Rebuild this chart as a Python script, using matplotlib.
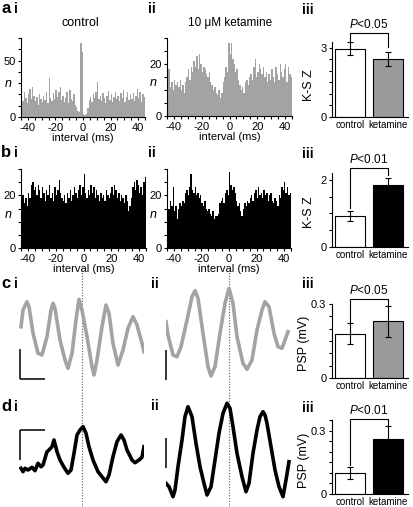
import numpy as np
import matplotlib
matplotlib.use("Agg")
import matplotlib.pyplot as plt

plt.rcParams["font.family"] = ["Liberation Sans", "DejaVu Sans"]
plt.rcParams["axes.unicode_minus"] = False
plt.rcParams["mathtext.fontset"] = "custom"
plt.rcParams["mathtext.rm"] = "Liberation Sans"
plt.rcParams["mathtext.it"] = "Liberation Sans:italic"

W, H = 413, 507

# --- cross-correlograms (counts per 1 ms bin, -45..44 ms) ---
bin_edges = np.arange(-45, 46)
cch_a_control = [18, 14, 22, 17, 12, 20, 25, 16, 27, 19,
                 14, 18, 11, 20, 16, 13, 19, 15, 22, 12,
                 35, 17, 14, 21, 16, 24, 18, 22, 27, 15,
                 19, 13, 17, 22, 12, 24, 16, 14, 20, 11,
                 9, 5, 4, 66, 58, 3, 2, 3, 8, 15,
                 18, 13, 20, 17, 22, 31, 16, 19, 14, 21,
                 17, 12, 19, 23, 15, 20, 13, 18, 22, 16,
                 19, 14, 21, 17, 24, 13, 18, 22, 15, 20,
                 16, 21, 14, 19, 25, 17, 22, 13, 20, 18]
cch_a_ketamine = [22, 18, 11, 13, 10, 14, 12, 13, 11, 14,
                  10, 12, 9, 13, 15, 18, 14, 19, 17, 21,
                  19, 23, 18, 24, 20, 17, 19, 18, 16, 15,
                  17, 13, 12, 10, 11, 9, 8, 10, 7, 9,
                  13, 15, 19, 17, 28, 24, 28, 22, 20, 17,
                  18, 14, 12, 10, 11, 9, 13, 14, 12, 15,
                  16, 14, 19, 22, 15, 17, 20, 18, 16, 19,
                  15, 17, 13, 16, 14, 18, 15, 13, 19, 16,
                  14, 20, 17, 15, 18, 20, 13, 19, 16, 15]
cch_b_control = [18, 20, 17, 19, 16, 21, 19, 24, 25, 22,
                 23, 20, 24, 22, 19, 23, 21, 18, 22, 20,
                 24, 19, 21, 18, 23, 20, 22, 26, 21, 19,
                 18, 20, 17, 21, 19, 22, 18, 20, 23, 21,
                 19, 22, 24, 20, 23, 28, 21, 19, 22, 20,
                 24, 21, 23, 19, 22, 20, 18, 21, 19, 20,
                 18, 22, 20, 19, 21, 23, 20, 24, 22, 19,
                 21, 18, 20, 19, 17, 20, 18, 14, 16, 19,
                 23, 25, 22, 26, 24, 21, 23, 20, 25, 27]
cch_b_ketamine = [17, 15, 18, 16, 23, 14, 16, 11, 15, 17,
                  16, 18, 17, 21, 22, 20, 23, 28, 22, 21,
                  23, 20, 21, 19, 20, 17, 16, 18, 15, 14,
                  15, 13, 12, 14, 11, 12, 12, 13, 17, 18,
                  19, 17, 21, 22, 20, 29, 24, 22, 23, 21,
                  18, 16, 17, 14, 12, 15, 17, 16, 18, 17,
                  19, 20, 18, 21, 22, 19, 23, 20, 21, 19,
                  22, 20, 21, 18, 20, 21, 18, 17, 19, 18,
                  16, 20, 19, 23, 22, 25, 21, 23, 20, 21]

# --- summary bars ---
groups = ["control", "ketamine"]
ksz_a = [2.95, 2.5]
ksz_a_err = [0.28, 0.3]
ksz_b = [0.93, 1.85]
ksz_b_err = [0.15, 0.2]
psp_c = [0.18, 0.23]
psp_c_err = [0.043, 0.062]
psp_d = [0.10, 0.26]
psp_d_err = [0.03, 0.06]

# --- spike-triggered PSP traces (time ms, voltage uV) ---
t_c_control = [-61, -59, -55, -53, -49, -44, -40, -35, -31, -29, -27, -22, -17, -14, -10, -6, -3, 0,
               5, 10, 12, 15, 20, 24, 27, 31, 36, 41, 46, 51, 55, 60, 62]
v_c_control = [133, 300, 383, 333, 70, -133, -150, 33, 300, 367, 317, 0, -200, -283, -133, 200, 407, 300,
               33, -267, -350, -200, 133, 350, 267, -33, -250, -100, 117, 233, 150, -33, -117]
t_c_ketamine = [-63, -61, -56, -52, -48, -42, -37, -34, -31, -26, -21, -18, -14, -9, -4, 0, 4, 8,
                14, 18, 23, 28, 33, 36, 40, 45, 49, 53, 56, 59]
v_c_ketamine = [183, 50, -150, -167, -67, 200, 433, 493, 417, 67, -267, -360, -267, 67, 367, 517, 367, 33,
                -233, -293, -200, 100, 300, 383, 333, 67, -67, -83, 0, 83]
t_d_control = [-61, -59, -57, -54, -50, -47, -44, -41, -39, -35, -33, -30, -28, -25, -22, -18, -14, -11,
               -8, -5, -2, 1, 4, 7, 11, 16, 20, 24, 27, 31, 35, 39, 42, 45, 50, 53, 57, 60, 62]
v_d_control = [-83, -117, -83, -100, -73, -107, -33, -67, -50, 83, 100, 133, 200, 83, 0, -73, -133, -100,
               67, 250, 300, 333, 267, 133, 0, -117, -167, -217, -150, 33, 183, 250, 200, 100, 0, -27, 0, 27, 133]
t_d_ketamine = [-63, -60, -56, -54, -51, -47, -44, -41, -37, -33, -29, -25, -22, -18, -14, -10, -6, -2,
                1, 4, 8, 13, 17, 20, 24, 28, 31, 34, 36, 38, 42, 46, 50, 54, 57, 60]
v_d_ketamine = [-233, -267, -367, -300, -67, 200, 433, 533, 433, 167, -67, -233, -350, -267, 0, 267, 467, 567,
                517, 333, 67, -167, -317, -233, 67, 300, 433, 483, 450, 367, 133, -100, -267, -367, -200, -17]

GRAY = "#a3a3a3"


def box(x0, y0, x1, y1):
    return [x0 / W, 1 - y1 / H, (x1 - x0) / W, (y1 - y0) / H]


fig = plt.figure(figsize=(W / 100, H / 100), dpi=100)


def label(x, y, letter, roman):
    if letter:
        fig.text(x / W, 1 - y / H, letter, fontsize=12, fontweight="bold", va="baseline")
    fig.text((x + (13 if letter else 0)) / W, 1 - y / H, roman, fontsize=10, fontweight="bold", va="baseline")


def style(ax):
    for s in ["top", "right"]:
        ax.spines[s].set_visible(False)
    for s in ["left", "bottom"]:
        ax.spines[s].set_linewidth(0.8)
    ax.tick_params(which="both", direction="out", length=2.5, width=0.8, labelsize=8, pad=1.5)


def cch(rect, counts, color, ymax, ystep, ylab_ticks, nx):
    ax = fig.add_axes(box(*rect))
    ax.stairs(counts, bin_edges, fill=True, color=color, linewidth=0)
    ax.set_xlim(-45, 45)
    ax.set_ylim(0, ymax)
    ax.set_xticks([-40, -20, 0, 20, 40])
    ax.set_xticks(np.arange(-45, 46, 5), minor=True)
    yt = np.arange(0, ymax + 0.1, ystep)
    ax.set_yticks(yt)
    ax.set_yticklabels([str(int(v)) if v in ylab_ticks else "" for v in yt])
    style(ax)
    ax.set_xlabel("interval (ms)", fontsize=8, labelpad=0)
    ax.text(nx, 0.42, "n", transform=ax.transAxes, fontsize=9, style="italic", ha="center", va="center")
    return ax


cch((21, 38, 145, 117), cch_a_control, GRAY, 70, 10, [0, 50], -0.1)
cch((167, 38, 292, 116), cch_a_ketamine, GRAY, 30, 5, [0, 20], -0.11)
cch((21, 169, 146, 248), cch_b_control, "black", 30, 5, [0, 20], -0.1)
cch((167, 169, 291, 248), cch_b_ketamine, "black", 30, 5, [0, 20], -0.11)

fig.text(80 / W, 1 - 23 / H, "control", fontsize=9, ha="center", va="center")
fig.text(230 / W, 1 - 23 / H, "10 μM ketamine", fontsize=8.5, ha="center", va="center")


def bars(rect, vals, errs, color, ymax, ystep, ylabs, ylabel, lab_xy, brk, ptext):
    ax = fig.add_axes(box(*rect))
    x = np.arange(len(groups))
    ax.bar(x, vals, width=0.8, color=["white", color], edgecolor="black", linewidth=0.8)
    ax.errorbar(x, vals, yerr=errs, fmt="none", ecolor="black", elinewidth=0.8, capsize=2.5, capthick=0.8)
    ax.set_xlim(-0.47, 1.53)
    ax.set_ylim(0, ymax)
    yt = np.arange(0, ymax + 1e-9, ystep)
    ax.set_yticks(yt)
    ax.set_yticklabels([ylabs.get(round(v, 3), "") for v in yt])
    ax.set_xticks(x)
    ax.set_xticklabels(groups)
    style(ax)
    ax.tick_params(axis="x", length=0, labelsize=7, pad=2)
    ax.set_ylabel(ylabel, fontsize=9)
    ax.yaxis.set_label_coords(*lab_xy)
    top, left_end, right_end = brk
    ax.plot([0, 0, 1, 1], [left_end, top, top, right_end], color="black", lw=0.8, clip_on=False)
    ax.annotate(ptext, xy=(0.5, top), xytext=(0, 1.5), textcoords="offset points",
                ha="center", va="bottom", fontsize=8.5, annotation_clip=False)
    return ax


bars((332, 42, 408, 117), ksz_a, ksz_a_err, "#9a9a9a", 3.25, 0.5, {0.0: "0", 3.0: "3"}, "K-S Z",
     (-0.22, 0.43), (3.62, 3.3, 3.04), r"$\it{P}$<0.05")
bars((332, 173, 408, 247), ksz_b, ksz_b_err, "black", 2.2, 0.5, {0.0: "0", 2.0: "2"}, "K-S Z",
     (-0.22, 0.47), (2.36, 1.17, 2.15), r"$\it{P}$<0.01")
bars((332, 304, 408, 378), psp_c, psp_c_err, "#9a9a9a", 0.3, 0.05, {0.0: "0", 0.3: "0.3"}, "PSP (mV)",
     (-0.29, 0.47), (0.32, 0.227, 0.292), r"$\it{P}$<0.05")
bars((332, 420, 408, 494), psp_d, psp_d_err, "black", 0.35, 0.05, {0.0: "0", 0.3: "0.3"}, "PSP (mV)",
     (-0.29, 0.45), (0.355, 0.137, 0.327), r"$\it{P}$<0.01")

# dotted alignment lines through c and d
for x0 in (19, 166):
    ov = fig.add_axes(box(x0, 270, x0 + 125, 507))
    ov.set_xlim(-63, 62)
    ov.axvline(0, color="#555555", lw=0.8, ls=(0, (1, 1.5)))
    ov.axis("off")


def trace(rect, t, v, color, ylim, vbar, hbar=None):
    ax = fig.add_axes(box(*rect))
    ax.plot(t, v, color=color, lw=2.6, solid_joinstyle="round")
    ax.set_xlim(-63, 62)
    ax.set_ylim(*ylim)
    ax.axis("off")
    ax.plot(vbar[0], vbar[1], color="black", lw=1.1, clip_on=False, solid_capstyle="butt")
    if hbar:
        ax.plot(hbar[0], hbar[1], color="black", lw=1.1, clip_on=False, solid_capstyle="butt")
    return ax


trace((19, 285, 144, 385), t_c_control, v_c_control, GRAY, (-450, 550),
      ([-62, -62], [-390, -90]), ([-62, -37], [-390, -390]))
trace((166, 285, 291, 385), t_c_ketamine, v_c_ketamine, GRAY, (-450, 550),
      ([-63, -63], [-400, -100]))
trace((19, 400, 144, 500), t_d_control, v_d_control, "black", (-400, 600),
      ([-62, -62], [300, 0]), ([-62, -37], [300, 300]))
trace((166, 400, 291, 500), t_d_ketamine, v_d_ketamine, "black", (-400, 600),
      ([-63, -63], [-80, 220]))

# panel labels
label(1, 13, "a", "i")
label(148, 13, None, "ii")
label(302, 14, None, "iii")
label(1, 157, "b", "i")
label(148, 157, None, "ii")
label(302, 158, None, "iii")
label(1, 288, "c", "i")
label(151, 288, None, "ii")
label(302, 288, None, "iii")
label(1, 411, "d", "i")
label(151, 410, None, "ii")
label(302, 412, None, "iii")

fig.savefig("out.png", dpi=100)
